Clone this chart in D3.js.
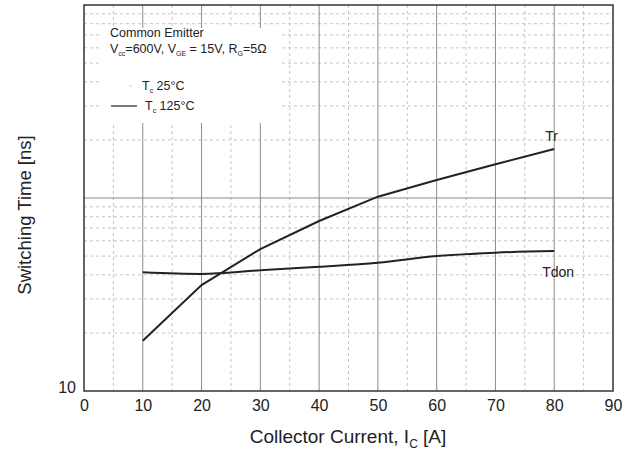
<!DOCTYPE html>
<meta charset="utf-8" />
<script src="https://d3js.org/d3.v7.min.js"></script>
<style>
  body { margin: 0; background: #fff; }
  text { font-family: "Liberation Sans", Arial, sans-serif; fill: #222; }
</style>
<body>
  <div id="chart"></div>
  <script>
    // data
    const current = [10, 20, 30, 40, 50, 60, 70, 80];
    const trValues = [18.2, 35.4, 54.4, 76, 101.6, 124, 149.5, 179.5];
    const tdonValues = [41.2, 40.4, 42.2, 44.0, 46.2, 50.0, 52.1, 53.1];
    const xTicks = [0, 10, 20, 30, 40, 50, 60, 70, 80, 90];
    const yTickLabels = [10];

    const W = 633, H = 452;
    const margin = { top: 5, right: 20, bottom: 61, left: 84 };
    const width = 613 - margin.left,
      height = 391 - margin.top;

    const svg = d3.select("#chart").append("svg")
      .attr("width", W).attr("height", H);
    const g = svg.append("g")
      .attr("transform", "translate(" + margin.left + "," + margin.top + ")");

    const x = d3.scaleLinear().domain([0, 90]).range([0, width]);
    const y = d3.scaleLog().domain([10, 1000]).range([height, 0]);

    // minor grid (dashed)
    const minorX = d3.range(5, 90, 10);
    const minorY = [];
    [10, 100].forEach(function (dec) {
      for (let k = 2; k <= 9; k++) minorY.push(dec * k);
    });
    g.append("g").selectAll("line").data(minorX).join("line")
      .attr("x1", d => x(d)).attr("x2", d => x(d))
      .attr("y1", 0).attr("y2", height)
      .attr("stroke", "#c4c4c4").attr("stroke-dasharray", "3,3");
    g.append("g").selectAll("line").data(minorY).join("line")
      .attr("x1", 0).attr("x2", width)
      .attr("y1", d => y(d)).attr("y2", d => y(d))
      .attr("stroke", "#c4c4c4").attr("stroke-dasharray", "3,3");

    // major grid (solid)
    g.append("g").selectAll("line").data(d3.range(10, 90, 10)).join("line")
      .attr("x1", d => x(d)).attr("x2", d => x(d))
      .attr("y1", 0).attr("y2", height)
      .attr("stroke", "#8c8c8c");
    g.append("line")
      .attr("x1", 0).attr("x2", width)
      .attr("y1", y(100)).attr("y2", y(100))
      .attr("stroke", "#8c8c8c");

    // legend box background hides the grid
    g.append("rect")
      .attr("x", 100 - margin.left).attr("y", 28 - margin.top)
      .attr("width", 182).attr("height", 95)
      .attr("fill", "#fff");

    // frame
    g.append("rect")
      .attr("width", width).attr("height", height)
      .attr("fill", "none").attr("stroke", "#333").attr("stroke-width", 1.5);

    // curves
    const trData = current.map((c, i) => [c, trValues[i]]);
    const tdonData = current.map((c, i) => [c, tdonValues[i]]);
    g.append("path").datum(trData)
      .attr("fill", "none").attr("stroke", "#222").attr("stroke-width", 2)
      .attr("d", d3.line().x(d => x(d[0])).y(d => y(d[1])));
    g.append("path").datum(tdonData)
      .attr("fill", "none").attr("stroke", "#222").attr("stroke-width", 2)
      .attr("d", d3.line().curve(d3.curveMonotoneX).x(d => x(d[0])).y(d => y(d[1])));

    // curve labels
    g.append("text").attr("x", x(80) - 9).attr("y", y(179.5) - 8)
      .style("font-size", "14px").text("Tr");
    g.append("text").attr("x", x(80) - 12).attr("y", y(53.1) + 26)
      .style("font-size", "14px").text("Tdon");

    // axes
    const xAxis = g.append("g").attr("transform", "translate(0," + height + ")")
      .call(d3.axisBottom(x).tickValues(xTicks).tickSize(0).tickPadding(9));
    xAxis.select(".domain").remove();
    xAxis.selectAll("text").style("font-size", "16px").attr("fill", "#222");

    const yAxis = g.append("g")
      .call(d3.axisLeft(y).tickValues(yTickLabels).tickFormat(d3.format("d")).tickSize(0).tickPadding(8));
    yAxis.select(".domain").remove();
    yAxis.selectAll("text").style("font-size", "16px").attr("fill", "#222")
      .attr("dy", "0.1em");

    // axis titles
    const xt = svg.append("text").attr("x", 348).attr("y", 443)
      .attr("text-anchor", "middle").style("font-size", "19px");
    xt.append("tspan").text("Collector Current, I");
    xt.append("tspan").attr("dy", 5).style("font-size", "12px").text("C");
    xt.append("tspan").attr("dy", -5).text(" [A]");

    svg.append("text")
      .attr("transform", "translate(31,215)rotate(-90)")
      .attr("text-anchor", "middle").style("font-size", "18.5px")
      .text("Switching Time [ns]");

    // legend text
    svg.append("text").attr("x", 110).attr("y", 37)
      .style("font-size", "12.5px").text("Common Emitter");
    const cond = svg.append("text").attr("x", 110).attr("y", 53)
      .style("font-size", "12.5px");
    cond.append("tspan").text("V");
    cond.append("tspan").attr("dy", 3).style("font-size", "7px").text("cc");
    cond.append("tspan").attr("dy", -3).text("=600V, V");
    cond.append("tspan").attr("dy", 3).style("font-size", "7px").text("GE");
    cond.append("tspan").attr("dy", -3).text(" = 15V, R");
    cond.append("tspan").attr("dy", 3).style("font-size", "7px").text("G");
    cond.append("tspan").attr("dy", -3).text("=5Ω");

    const leg1 = svg.append("text").attr("x", 142).attr("y", 90)
      .style("font-size", "12.5px");
    leg1.append("tspan").text("T");
    leg1.append("tspan").attr("dy", 3).style("font-size", "7px").text("c");
    leg1.append("tspan").attr("dy", -3).text(" 25°C");
    svg.append("line").attr("x1", 129).attr("x2", 132).attr("y1", 86).attr("y2", 86)
      .attr("stroke", "#ccc");

    svg.append("line").attr("x1", 111).attr("x2", 137).attr("y1", 106).attr("y2", 106)
      .attr("stroke", "#222").attr("stroke-width", 1.2);
    const leg2 = svg.append("text").attr("x", 145).attr("y", 110)
      .style("font-size", "12.5px");
    leg2.append("tspan").text("T");
    leg2.append("tspan").attr("dy", 3).style("font-size", "7px").text("c");
    leg2.append("tspan").attr("dy", -3).text(" 125°C");
  </script>
</body>
